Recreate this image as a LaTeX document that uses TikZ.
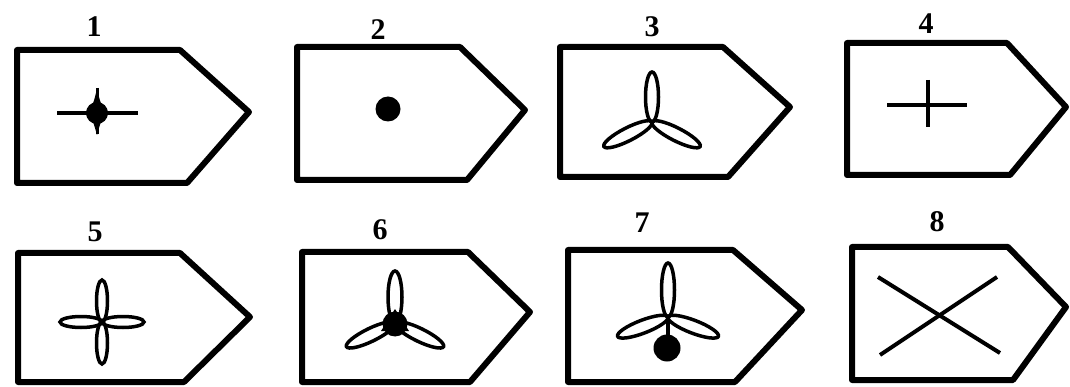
\documentclass[tikz,border=0pt]{standalone}
\usepackage{fontspec}
\setmainfont{Liberation Serif}
\begin{document}
\begin{tikzpicture}[x=1pt,y=-1pt,
  frame/.style={line width=6pt,line join=round},
  sym/.style={line width=4pt},
  petal/.style={line width=3.5pt},
  lbl/.style={font=\bfseries\fontsize{30}{30}\selectfont,inner sep=0pt}]
\useasboundingbox (0,0) rectangle (1070,387);
% frames
\draw[frame] (17,50) -- (180,50) -- (249,112) -- (187,183) -- (17,183) -- cycle;
\draw[frame] (297,47) -- (460,47) -- (525,110) -- (467,180) -- (297,180) -- cycle;
\draw[frame] (560,47) -- (723,47) -- (790,107) -- (728,177) -- (560,177) -- cycle;
\draw[frame] (847,43) -- (1007,43) -- (1066,107) -- (1010,175) -- (847,175) -- cycle;
\draw[frame] (18,253) -- (180,253) -- (250,317) -- (184,382) -- (18,382) -- cycle;
\draw[frame] (302,252) -- (468,252) -- (530,312) -- (470,382) -- (302,382) -- cycle;
\draw[frame] (568,250) -- (733,250) -- (802,310) -- (735,382) -- (568,382) -- cycle;
\draw[frame] (852,247) -- (1008,247) -- (1066,307) -- (1013,380) -- (852,380) -- cycle;
% labels
\node[lbl] (l1) at (94,27) {1};
\node[lbl] (l2) at (378,30) {2};
\node[lbl] (l3) at (652,27) {3};
\node[lbl] (l4) at (926,24) {4};
\node[lbl] (l5) at (95,232) {5};
\node[lbl] (l6) at (380,230) {6};
\node[lbl] (l7) at (642,223) {7};
\node[lbl] (l8) at (937,222) {8};
% symbol 1
\draw[sym] (57,113) -- (138,113);
\draw[line width=3pt] (97,88) -- (97,134);
\fill (81,113) .. controls (92,109) .. (97,89) .. controls (102,109) .. (113,113)
  .. controls (102,117) .. (97,135) .. controls (92,117) .. (81,113) -- cycle;
\fill (97,113) circle (11);
% symbol 2
\fill (388,109) circle (12.5);
% symbol 3
\begin{scope}[shift={(652,122)}]
  \draw[petal,rotate=90] (25pt,0) ellipse [x radius=25pt,y radius=6.5pt];
  \draw[petal,rotate=207] (27pt,0) ellipse [x radius=27pt,y radius=6.5pt];
  \draw[petal,rotate=333] (27pt,0) ellipse [x radius=27pt,y radius=6.5pt];
\end{scope}
% symbol 4
\draw[sym] (887,105) -- (967,105);
\draw[sym] (928,80) -- (928,127);
% symbol 5
\begin{scope}[shift={(102,322)}]
  \foreach \a in {0,90,180,270}
    \draw[petal,rotate=\a] (21pt,0) ellipse [x radius=21pt,y radius=5.5pt];
\end{scope}
% symbol 6
\begin{scope}[shift={(395,323)}]
  \fill (0,1) circle (12.5);
  \fill (0,-14) -- (-14,8) -- (14,8) -- cycle;
  \draw[petal,rotate=90] (26pt,0) ellipse [x radius=26pt,y radius=7pt];
  \draw[petal,rotate=206] (27pt,0) ellipse [x radius=27pt,y radius=6.5pt];
  \draw[petal,rotate=334] (27pt,0) ellipse [x radius=27pt,y radius=6.5pt];
\end{scope}
% symbol 7
\begin{scope}[shift={(668,317)}]
  \draw[petal,rotate=90] (27pt,0) ellipse [x radius=27pt,y radius=6.5pt];
  \draw[petal,rotate=201] (27pt,0) ellipse [x radius=27pt,y radius=6.5pt];
  \draw[petal,rotate=339] (27pt,0) ellipse [x radius=27pt,y radius=6.5pt];
  \draw[line width=3.5pt] (0,0) -- (0,25);
  \fill (-1,31) circle (13.5);
\end{scope}
% symbol 8
\draw[sym] (878,277) -- (1000,353);
\draw[sym] (880,355) -- (997,277);
\end{tikzpicture}
\end{document}
